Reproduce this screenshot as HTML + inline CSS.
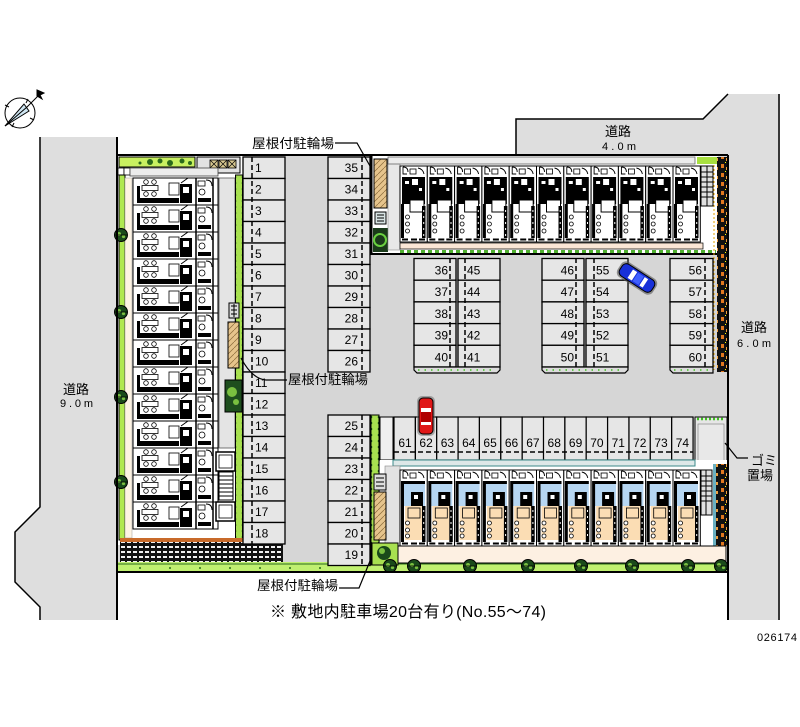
<!DOCTYPE html>
<html><head><meta charset="utf-8"><title>site plan</title>
<style>
html,body{margin:0;padding:0;background:#fff;width:800px;height:727px;overflow:hidden}
svg{display:block}
.n{font-family:"Liberation Sans",sans-serif;font-size:12px;fill:#000}
.j{font-family:"Liberation Sans","Noto Sans CJK JP",sans-serif;font-size:13px;fill:#000}
</style></head><body>
<svg width="800" height="727" viewBox="0 0 800 727" xmlns="http://www.w3.org/2000/svg" xmlns:xlink="http://www.w3.org/1999/xlink">
<defs>
<pattern id="brick" width="6" height="5" patternUnits="userSpaceOnUse">
 <rect width="6" height="5" fill="#111"/>
 <rect x="1" y="1" width="4" height="2" fill="#f2f2f2"/>
</pattern>
<pattern id="tan" width="6" height="6" patternUnits="userSpaceOnUse">
 <rect width="6" height="6" fill="#e6c48c"/>
 <path d="M0 6 L6 0" stroke="#8a6a3a" stroke-width=".7"/>
</pattern>
<pattern id="orng" width="10" height="9" patternUnits="userSpaceOnUse">
 <rect width="10" height="9" fill="#111"/>
 <rect x="1" y="2" width="3" height="4" fill="#e07820"/>
 <rect x="6" y="5" width="2" height="3" fill="#f0a040"/>
 <rect x="5" y="0" width="1" height="1" fill="#ff0"/>
</pattern>
<pattern id="gdot" width="8" height="6" patternUnits="userSpaceOnUse">
 <rect width="8" height="6" fill="#a8e050"/>
 <circle cx="3" cy="3" r="1.3" fill="#1a5a1a"/>
</pattern>
<g id="tree">
 <circle r="6.5" fill="#1a4a1a" stroke="#000" stroke-width="1"/>
 <circle cx="-2" cy="-1" r="2" fill="#7ac040"/>
 <circle cx="2.5" cy="1.5" r="1.6" fill="#7ac040"/>
 <path d="M-6 0 H6" stroke="#000" stroke-width=".8"/>
</g>
<g id="uL">
 <rect width="85" height="27" fill="#fff" stroke="#000" stroke-width="1"/>
 <rect x="9" y="7.5" width="16" height="5" fill="#fff" stroke="#000" stroke-width=".8"/>
 <circle cx="13" cy="4" r="2.3" fill="#fff" stroke="#000" stroke-width=".8"/>
 <circle cx="21" cy="4" r="2.3" fill="#fff" stroke="#000" stroke-width=".8"/>
 <circle cx="13" cy="16" r="2.3" fill="#fff" stroke="#000" stroke-width=".8"/>
 <circle cx="21" cy="16" r="2.3" fill="#fff" stroke="#000" stroke-width=".8"/>
 <rect x="4" y="8" width="3" height="17" fill="#000"/>
 <rect x="4" y="20" width="42" height="5" fill="#000"/>
 <rect x="36" y="5" width="10" height="12" fill="#fff" stroke="#000" stroke-width=".8"/>
 <rect x="47" y="6" width="12" height="19" fill="#000"/>
 <rect x="50" y="9" width="6" height="6" fill="#fff"/>
 <path d="M48 5 L55 0" stroke="#000" stroke-width="1"/>
 <line x1="63" y1="0" x2="63" y2="27" stroke="#000" stroke-width="1.5"/>
 <rect x="65" y="3" width="7" height="5" fill="#fff" stroke="#000" stroke-width=".8"/>
 <path d="M73 2 q6 0 6 6" fill="none" stroke="#000" stroke-width="1"/>
 <circle cx="69" cy="14" r="3" fill="#fff" stroke="#000" stroke-width=".8"/>
 <rect x="65" y="20" width="13" height="4" fill="#000"/>
 <line x1="80" y1="0" x2="80" y2="27" stroke="#000" stroke-width="1.5"/>
</g>
<g id="uT">
 <rect width="27.3" height="76" fill="#fff" stroke="#000" stroke-width="1"/>
 <path d="M3 1 v7 h4 M3 1 q5 0 5 5" fill="none" stroke="#000" stroke-width=".9"/>
 <rect x="10" y="3" width="6" height="5" fill="#fff" stroke="#000" stroke-width=".8"/>
 <path d="M18 2 q5 1 6 6" fill="none" stroke="#000" stroke-width=".9"/>
 <rect x="2" y="11" width="23" height="27" fill="#000"/>
 <rect x="12" y="13" width="6" height="6" fill="#fff"/>
 <rect x="5" y="15" width="4" height="3" fill="#fff"/>
 <rect x="19" y="22" width="3" height="3" fill="#fff"/>
 <rect x="10" y="34" width="14" height="12" fill="#fff" stroke="#000" stroke-width="1"/>
 <rect x="1" y="38" width="3" height="34" fill="#000"/>
 <circle cx="7.5" cy="51" r="2" fill="#fff" stroke="#000" stroke-width=".8"/>
 <circle cx="7.5" cy="58" r="2" fill="#fff" stroke="#000" stroke-width=".8"/>
 <circle cx="7.5" cy="65" r="2" fill="#fff" stroke="#000" stroke-width=".8"/>
 <rect x="22" y="40" width="3.5" height="32" fill="#000"/>
 <path d="M23.7 44 v2 M23.7 50 v2 M23.7 56 v2 M23.7 62 v2 M23.7 68 v2" stroke="#fff" stroke-width="1"/>
 <path d="M2 73.5 h6 M11 73.5 h6 M19 73.5 h6" stroke="#000" stroke-width="2"/>
</g>
<g id="uB">
 <rect width="27.3" height="76" fill="#fff" stroke="#000" stroke-width="1"/>
 <path d="M3 1 v7 h4 M3 1 q5 0 5 5" fill="none" stroke="#000" stroke-width=".9"/>
 <rect x="10" y="3" width="6" height="5" fill="#fff" stroke="#000" stroke-width=".8"/>
 <path d="M18 2 q5 1 6 6" fill="none" stroke="#000" stroke-width=".9"/>
 <rect x="3" y="11" width="22" height="25" fill="#b6d6f2"/>
 <rect x="3" y="11" width="22" height="3" fill="#000"/>
 <rect x="11" y="22" width="12" height="16" fill="#000"/>
 <rect x="14" y="25" width="4" height="4" fill="#fff"/>
 <rect x="1" y="11" width="3" height="61" fill="#000"/>
 <rect x="5" y="36" width="17" height="34" fill="#fbddb4"/>
 <rect x="8" y="38" width="12" height="10" fill="#fbddb4" stroke="#000" stroke-width=".8"/>
 <circle cx="7.5" cy="53" r="2" fill="#fff" stroke="#000" stroke-width=".8"/>
 <circle cx="7.5" cy="60" r="2" fill="#fff" stroke="#000" stroke-width=".8"/>
 <circle cx="7.5" cy="66" r="2" fill="#fff" stroke="#000" stroke-width=".8"/>
 <rect x="22" y="36" width="3.5" height="36" fill="#000"/>
 <path d="M23.7 40 v2 M23.7 46 v2 M23.7 52 v2 M23.7 58 v2 M23.7 64 v2" stroke="#fff" stroke-width="1"/>
 <path d="M2 73.5 h6 M11 73.5 h6 M19 73.5 h6" stroke="#000" stroke-width="2"/>
</g>
</defs>

<!-- compass -->
<g stroke="#000" stroke-width="1" fill="none">
 <circle cx="20" cy="113" r="15"/>
 <path d="M5 105 l4 2 M34 120 l-4 -2 M12 127 l2 -4 M28 99 l-2 4"/>
 <polygon points="5,126 24,104 29,111" fill="#cfe6f2"/>
 <path d="M5 126 L27 107 M27 107 L40 94"/>
 <polygon points="37,90 44,93 40,95 42,99 37,96" fill="#000"/>
</g>

<!-- roads -->
<polygon points="40,137 117,137 117,620 40,620 40,607 15,582 15,532 40,507" fill="#dedede"/>
<polyline points="40,137 40,507 15,532 15,582 40,607 40,620" fill="none" stroke="#000" stroke-width="1.5"/>
<polygon points="516,155 516,119 703,119 728,94 780,94 780,620 728,620 728,155" fill="#dedede"/>
<polyline points="516,155 516,119 703,119 728,94" fill="none" stroke="#000" stroke-width="1.5"/>
<line x1="779" y1="94" x2="779" y2="620" stroke="#000" stroke-width="1.5"/>

<!-- site base -->
<rect x="118" y="156" width="610" height="416" fill="#d6d6d6"/>
<rect x="118" y="156" width="125" height="389" fill="#fff"/>

<!-- left building area -->
<rect x="119" y="157" width="76" height="10" fill="#c8f060" stroke="#000" stroke-width="1"/>
<g fill="#2a6a1a"><circle cx="150" cy="162" r="3"/><circle cx="160" cy="161" r="2.5"/><circle cx="170" cy="163" r="3"/><circle cx="182" cy="161" r="2.5"/><circle cx="190" cy="163" r="2"/><circle cx="140" cy="163" r="1.5"/></g>
<rect x="197" y="157" width="43" height="16" fill="#e2e2e2" stroke="#000" stroke-width="1"/>
<g fill="#d8c890" stroke="#000" stroke-width=".8"><rect x="210" y="160" width="8" height="8"/><rect x="219" y="160" width="8" height="8"/><rect x="228" y="160" width="8" height="8"/></g>
<path d="M210 160 l8 8 M218 160 l-8 8 M219 160 l8 8 M227 160 l-8 8 M228 160 l8 8 M236 160 l-8 8" stroke="#000" stroke-width=".7"/>
<rect x="118" y="168" width="6" height="7" fill="#fff" stroke="#000" stroke-width=".8"/>
<rect x="124" y="168" width="6" height="7" fill="#fff" stroke="#000" stroke-width=".8"/>
<rect x="130" y="168" width="88" height="8" fill="#ececec" stroke="#444" stroke-width=".8"/>
<rect x="119" y="175" width="6" height="365" fill="#b0e850" stroke="#000" stroke-width="1"/>
<rect x="125" y="178" width="7" height="360" fill="#fdf3e3" stroke="#999" stroke-width=".5"/>
<rect x="219" y="178" width="16" height="270" fill="#e4e4e4" stroke="#555" stroke-width=".8"/>
<rect x="235.5" y="175" width="7" height="370" fill="url(#gdot)" stroke="#000" stroke-width="1"/>
<g>
<use href="#uL" x="133" y="178"/><use href="#uL" x="133" y="205"/><use href="#uL" x="133" y="232"/><use href="#uL" x="133" y="259"/><use href="#uL" x="133" y="286"/><use href="#uL" x="133" y="313"/><use href="#uL" x="133" y="340"/><use href="#uL" x="133" y="367"/><use href="#uL" x="133" y="394"/><use href="#uL" x="133" y="421"/><use href="#uL" x="133" y="448"/><use href="#uL" x="133" y="475"/><use href="#uL" x="133" y="502"/>
</g>
<use href="#tree" x="121" y="235"/><use href="#tree" x="121" y="312"/><use href="#tree" x="121" y="397"/><use href="#tree" x="121" y="482"/>
<rect x="229" y="303" width="10" height="15" fill="#ddd" stroke="#000" stroke-width="1"/>
<path d="M231 306 h6 M231 310 h6 M231 314 h6 M234 304 v13" stroke="#000" stroke-width="1"/>
<rect x="228" y="322" width="11" height="46" fill="url(#tan)" stroke="#000" stroke-width="1"/>
<rect x="225" y="380" width="17" height="32" fill="#1e4e1e" stroke="#000" stroke-width="1"/>
<circle cx="232" cy="392" r="5" fill="#7ac040"/><circle cx="236" cy="402" r="3" fill="#7ac040"/>
<rect x="216" y="452" width="19" height="19" fill="#fff" stroke="#000" stroke-width="1.5"/>
<rect x="219" y="455" width="13" height="13" fill="#fff" stroke="#000" stroke-width=".8"/>
<rect x="219" y="472" width="14" height="28" fill="#fff" stroke="#000" stroke-width="1"/>
<path d="M219 476 h14 M219 480 h14 M219 484 h14 M219 488 h14 M219 492 h14 M219 496 h14" stroke="#000" stroke-width="1"/>
<rect x="216" y="502" width="19" height="19" fill="#fff" stroke="#000" stroke-width="1.5"/>
<rect x="219" y="505" width="13" height="13" fill="#fff" stroke="#000" stroke-width=".8"/>
<rect x="120" y="538" width="163" height="24" fill="url(#brick)"/>
<rect x="120" y="538" width="123" height="4" fill="#c86a2a"/>
<rect x="118" y="562" width="610" height="9" fill="#c0f070"/>
<line x1="118" y1="564" x2="728" y2="564" stroke="#2a6a1a" stroke-width="1"/>
<g fill="#2a6a1a"><circle cx="140" cy="568" r="1"/><circle cx="170" cy="568" r="1"/><circle cx="200" cy="568" r="1"/><circle cx="230" cy="568" r="1"/><circle cx="260" cy="568" r="1"/><circle cx="290" cy="568" r="1"/><circle cx="320" cy="568" r="1"/></g>

<!-- parking column 1-18 -->
<g fill="#e6e6e6" stroke="#000" stroke-width="1.3">
<rect x="243" y="157" width="42" height="21.5"/><rect x="243" y="178.5" width="42" height="21.5"/><rect x="243" y="200" width="42" height="21.5"/><rect x="243" y="221.5" width="42" height="21.5"/><rect x="243" y="243" width="42" height="21.5"/><rect x="243" y="264.5" width="42" height="21.5"/><rect x="243" y="286" width="42" height="21.5"/><rect x="243" y="307.5" width="42" height="21.5"/><rect x="243" y="329" width="42" height="21.5"/><rect x="243" y="350.5" width="42" height="21.5"/><rect x="243" y="372" width="42" height="21.5"/><rect x="243" y="393.5" width="42" height="21.5"/><rect x="243" y="415" width="42" height="21.5"/><rect x="243" y="436.5" width="42" height="21.5"/><rect x="243" y="458" width="42" height="21.5"/><rect x="243" y="479.5" width="42" height="21.5"/><rect x="243" y="501" width="42" height="21.5"/><rect x="243" y="522.5" width="42" height="21.5"/>
</g>
<line x1="252" y1="157" x2="252" y2="544" stroke="#000" stroke-width="1.5" stroke-dasharray="5,3"/>
<g class="n">
<text x="255" y="172">1</text><text x="255" y="193.5">2</text><text x="255" y="215">3</text><text x="255" y="236.5">4</text><text x="255" y="258">5</text><text x="255" y="279.5">6</text><text x="255" y="301">7</text><text x="255" y="322.5">8</text><text x="255" y="344">9</text><text x="255" y="365.5">10</text><text x="255" y="387">11</text><text x="255" y="408.5">12</text><text x="255" y="430">13</text><text x="255" y="451.5">14</text><text x="255" y="473">15</text><text x="255" y="494.5">16</text><text x="255" y="516">17</text><text x="255" y="537.5">18</text>
</g>

<!-- parking column 35-19 -->
<g fill="#e6e6e6" stroke="#000" stroke-width="1.3">
<rect x="328" y="157" width="42" height="21.5"/><rect x="328" y="178.5" width="42" height="21.5"/><rect x="328" y="200" width="42" height="21.5"/><rect x="328" y="221.5" width="42" height="21.5"/><rect x="328" y="243" width="42" height="21.5"/><rect x="328" y="264.5" width="42" height="21.5"/><rect x="328" y="286" width="42" height="21.5"/><rect x="328" y="307.5" width="42" height="21.5"/><rect x="328" y="329" width="42" height="21.5"/><rect x="328" y="350.5" width="42" height="21.5"/>
<rect x="328" y="415" width="42" height="21.5"/><rect x="328" y="436.5" width="42" height="21.5"/><rect x="328" y="458" width="42" height="21.5"/><rect x="328" y="479.5" width="42" height="21.5"/><rect x="328" y="501" width="42" height="21.5"/><rect x="328" y="522.5" width="42" height="21.5"/><rect x="328" y="544" width="42" height="21.5"/>
</g>
<line x1="362" y1="157" x2="362" y2="372" stroke="#000" stroke-width="1.5" stroke-dasharray="5,3"/>
<line x1="362" y1="415" x2="362" y2="565" stroke="#000" stroke-width="1.5" stroke-dasharray="5,3"/>
<g class="n" text-anchor="end">
<text x="358" y="172">35</text><text x="358" y="193.5">34</text><text x="358" y="215">33</text><text x="358" y="236.5">32</text><text x="358" y="258">31</text><text x="358" y="279.5">30</text><text x="358" y="301">29</text><text x="358" y="322.5">28</text><text x="358" y="344">27</text><text x="358" y="365.5">26</text>
<text x="358" y="430">25</text><text x="358" y="451.5">24</text><text x="358" y="473">23</text><text x="358" y="494.5">22</text><text x="358" y="516">21</text><text x="358" y="537.5">20</text><text x="358" y="559">19</text>
</g>

<!-- top right building -->
<rect x="371" y="156" width="347" height="98" fill="#fff"/>
<rect x="374" y="159" width="13" height="49" fill="url(#tan)" stroke="#000" stroke-width="1"/>
<rect x="375" y="212" width="11" height="12" fill="#d8e4e4" stroke="#000" stroke-width="1"/>
<path d="M377 215 h7 M377 218 h7 M377 221 h7" stroke="#000" stroke-width="1"/>
<rect x="373" y="228" width="15" height="24" fill="#1a3a1a"/>
<circle cx="380" cy="240" r="6" fill="none" stroke="#6ad040" stroke-width="2"/>
<rect x="388" y="160" width="12" height="90" fill="#e8e8e8" stroke="#888" stroke-width=".6"/>
<rect x="388" y="157" width="307" height="7" fill="#ececec" stroke="#666" stroke-width=".8"/>
<rect x="697" y="157" width="28" height="7" fill="#a8e040"/>
<g>
<use href="#uT" x="400" y="166"/><use href="#uT" x="427.3" y="166"/><use href="#uT" x="454.6" y="166"/><use href="#uT" x="481.9" y="166"/><use href="#uT" x="509.2" y="166"/><use href="#uT" x="536.5" y="166"/><use href="#uT" x="563.8" y="166"/><use href="#uT" x="591.1" y="166"/><use href="#uT" x="618.4" y="166"/><use href="#uT" x="645.7" y="166"/><use href="#uT" x="673" y="166"/>
</g>
<rect x="701" y="166" width="12" height="40" fill="#e0e0e0" stroke="#000" stroke-width="1"/>
<path d="M701 172 h12 M701 177 h12 M701 182 h12 M701 187 h12 M701 192 h12 M701 197 h12 M707 166 v40" stroke="#000" stroke-width="1"/>
<rect x="400" y="243" width="303" height="6" fill="#fbe6d6" stroke="#000" stroke-width=".7"/>
<line x1="400" y1="251.5" x2="716" y2="251.5" stroke="#50b030" stroke-width="3" stroke-dasharray="4,3"/>
<line x1="371" y1="155" x2="371" y2="254" stroke="#000" stroke-width="3"/>
<line x1="370" y1="254" x2="718" y2="254" stroke="#000" stroke-width="2"/>
<rect x="717" y="157" width="11" height="215" fill="url(#orng)"/>
<line x1="714" y1="165" x2="714" y2="370" stroke="#e0a000" stroke-width="1" stroke-dasharray="2,2"/>

<!-- islands -->
<g fill="#e6e6e6" stroke="#000" stroke-width="1.3">
<rect x="414" y="258.5" width="42" height="21.7"/><rect x="414" y="280.2" width="42" height="21.7"/><rect x="414" y="301.9" width="42" height="21.7"/><rect x="414" y="323.6" width="42" height="21.7"/><rect x="414" y="345.3" width="42" height="21.7"/>
<rect x="458" y="258.5" width="42" height="21.7"/><rect x="458" y="280.2" width="42" height="21.7"/><rect x="458" y="301.9" width="42" height="21.7"/><rect x="458" y="323.6" width="42" height="21.7"/><rect x="458" y="345.3" width="42" height="21.7"/>
<rect x="542" y="258.5" width="42" height="21.7"/><rect x="542" y="280.2" width="42" height="21.7"/><rect x="542" y="301.9" width="42" height="21.7"/><rect x="542" y="323.6" width="42" height="21.7"/><rect x="542" y="345.3" width="42" height="21.7"/>
<rect x="586" y="258.5" width="42" height="21.7"/><rect x="586" y="280.2" width="42" height="21.7"/><rect x="586" y="301.9" width="42" height="21.7"/><rect x="586" y="323.6" width="42" height="21.7"/><rect x="586" y="345.3" width="42" height="21.7"/>
<rect x="670" y="258.5" width="43" height="21.7"/><rect x="670" y="280.2" width="43" height="21.7"/><rect x="670" y="301.9" width="43" height="21.7"/><rect x="670" y="323.6" width="43" height="21.7"/><rect x="670" y="345.3" width="43" height="21.7"/>
</g>
<g stroke="#000" stroke-width="1.5" stroke-dasharray="5,3">
<line x1="450" y1="258" x2="450" y2="367"/><line x1="465" y1="258" x2="465" y2="367"/>
<line x1="576" y1="258" x2="576" y2="367"/><line x1="594" y1="258" x2="594" y2="367"/>
<line x1="705" y1="258" x2="705" y2="367"/>
</g>
<g fill="#dcdcdc" stroke="#000" stroke-width="1.2">
<path d="M414 367 v3 l3 3 h80 l3 -3 v-3z"/>
<path d="M542 367 v3 l3 3 h80 l3 -3 v-3z"/>
<path d="M670 367 v3 l3 3 h40 v-6z"/>
</g>
<g stroke="#40c020" stroke-width="1.5" stroke-dasharray="1.5,5"><line x1="418" y1="370" x2="496" y2="370"/><line x1="546" y1="370" x2="624" y2="370"/><line x1="674" y1="370" x2="712" y2="370"/></g>
<g class="n" text-anchor="end">
<text x="448" y="274.5">36</text><text x="448" y="296.2">37</text><text x="448" y="317.9">38</text><text x="448" y="339.6">39</text><text x="448" y="361.3">40</text>
<text x="574" y="274.5">46</text><text x="574" y="296.2">47</text><text x="574" y="317.9">48</text><text x="574" y="339.6">49</text><text x="574" y="361.3">50</text>
<text x="702" y="274.5">56</text><text x="702" y="296.2">57</text><text x="702" y="317.9">58</text><text x="702" y="339.6">59</text><text x="702" y="361.3">60</text>
</g>
<g class="n">
<text x="467" y="274.5">45</text><text x="467" y="296.2">44</text><text x="467" y="317.9">43</text><text x="467" y="339.6">42</text><text x="467" y="361.3">41</text>
<text x="596" y="274.5">55</text><text x="596" y="296.2">54</text><text x="596" y="317.9">53</text><text x="596" y="339.6">52</text><text x="596" y="361.3">51</text>
</g>

<!-- blue car -->
<g transform="translate(637,278) rotate(33)">
 <rect x="-21" y="-9" width="42" height="18" rx="6" fill="#555" opacity=".6"/>
 <rect x="-19" y="-7" width="38" height="14" rx="5" fill="#1830d8" stroke="#000" stroke-width="1"/>
 <rect x="-8" y="-5" width="5" height="10" fill="#fff"/>
 <rect x="6" y="-5" width="4" height="10" fill="#fff"/>
 <rect x="-2" y="-5" width="7" height="10" fill="#4060ff"/>
</g>

<!-- bottom row 61-74 -->
<rect x="371" y="415" width="8" height="150" fill="url(#gdot)" stroke="#000" stroke-width="1"/>
<rect x="380" y="417" width="13" height="43" fill="#efefef" stroke="#000" stroke-width="1"/>
<g fill="#e6e6e6" stroke="#000" stroke-width="1.2">
<rect x="394" y="417" width="21.36" height="43"/><rect x="415.4" y="417" width="21.36" height="43"/><rect x="436.7" y="417" width="21.36" height="43"/><rect x="458.1" y="417" width="21.36" height="43"/><rect x="479.4" y="417" width="21.36" height="43"/><rect x="500.8" y="417" width="21.36" height="43"/><rect x="522.2" y="417" width="21.36" height="43"/><rect x="543.5" y="417" width="21.36" height="43"/><rect x="564.9" y="417" width="21.36" height="43"/><rect x="586.2" y="417" width="21.36" height="43"/><rect x="607.6" y="417" width="21.36" height="43"/><rect x="629" y="417" width="21.36" height="43"/><rect x="650.3" y="417" width="21.36" height="43"/><rect x="671.7" y="417" width="21.36" height="43"/>
</g>
<line x1="394" y1="452" x2="693" y2="452" stroke="#000" stroke-width="1.5" stroke-dasharray="5,3"/>
<g class="n" text-anchor="middle">
<text x="405" y="447">61</text><text x="426.1" y="447">62</text><text x="447.4" y="447">63</text><text x="468.8" y="447">64</text><text x="490.1" y="447">65</text><text x="511.5" y="447">66</text><text x="532.9" y="447">67</text><text x="554.2" y="447">68</text><text x="575.6" y="447">69</text><text x="596.9" y="447">70</text><text x="618.3" y="447">71</text><text x="639.7" y="447">72</text><text x="661" y="447">73</text><text x="682.4" y="447">74</text>
</g>

<!-- red car -->
<g transform="translate(426,416)">
 <rect x="-9" y="-20" width="18" height="40" rx="5" fill="#666" opacity=".5"/>
 <rect x="-7" y="-18" width="14" height="36" rx="4" fill="#e01818" stroke="#000" stroke-width="1"/>
 <rect x="-5" y="-8" width="10" height="4" fill="#fff"/>
 <rect x="-5" y="6" width="10" height="3" fill="#fff"/>
 <rect x="-5" y="-4" width="10" height="10" fill="#b00000"/>
</g>

<!-- gomi -->
<rect x="695" y="417" width="32" height="46" fill="#e6e6e6" stroke="#000" stroke-width="1"/>
<line x1="697" y1="419" x2="725" y2="419" stroke="#40c020" stroke-width="2.5" stroke-dasharray="2,2"/>
<rect x="698" y="424" width="26" height="38" fill="#e8e8e8" stroke="#888" stroke-width=".7"/>

<!-- lower building -->
<rect x="380" y="460" width="348" height="103" fill="#fff"/>
<rect x="393" y="460" width="302" height="6" fill="#dde8e8" stroke="#3a8a8a" stroke-width="1"/>
<rect x="385" y="466" width="15" height="80" fill="#e2e2e2" stroke="#888" stroke-width=".6"/>
<rect x="374" y="474" width="12" height="16" fill="#ddd" stroke="#000" stroke-width="1"/>
<path d="M376 478 h8 M376 482 h8 M376 486 h8" stroke="#000"/>
<rect x="374" y="492" width="12" height="48" fill="url(#tan)" stroke="#000" stroke-width="1"/>
<g>
<use href="#uB" x="400" y="470"/><use href="#uB" x="427.3" y="470"/><use href="#uB" x="454.6" y="470"/><use href="#uB" x="481.9" y="470"/><use href="#uB" x="509.2" y="470"/><use href="#uB" x="536.5" y="470"/><use href="#uB" x="563.8" y="470"/><use href="#uB" x="591.1" y="470"/><use href="#uB" x="618.4" y="470"/><use href="#uB" x="645.7" y="470"/><use href="#uB" x="673" y="470"/>
</g>
<rect x="701" y="470" width="11" height="45" fill="#e0e0e0" stroke="#000" stroke-width="1"/>
<path d="M701 476 h11 M701 481 h11 M701 486 h11 M701 491 h11 M701 496 h11 M701 501 h11 M706 470 v45" stroke="#000" stroke-width="1"/>
<rect x="713" y="464" width="3" height="82" fill="#6ab0c0"/>
<rect x="716" y="464" width="11" height="82" fill="url(#orng)"/>
<rect x="398" y="546" width="328" height="17" fill="#fdf0e2" stroke="#000" stroke-width="1"/>
<rect x="372" y="543" width="26" height="22" fill="#a8e050" stroke="#000" stroke-width="1"/>
<circle cx="384" cy="553" r="7" fill="#1a4a1a"/><circle cx="382" cy="551" r="3" fill="#7ac040"/>
<use href="#tree" x="390" y="566"/><use href="#tree" x="414" y="566"/><use href="#tree" x="470" y="566"/><use href="#tree" x="528" y="566"/><use href="#tree" x="581" y="566"/><use href="#tree" x="632" y="566"/><use href="#tree" x="688" y="566"/><use href="#tree" x="721" y="566"/>

<!-- site boundary -->
<line x1="117" y1="155" x2="728" y2="155" stroke="#000" stroke-width="2"/>
<line x1="117" y1="137" x2="117" y2="620" stroke="#000" stroke-width="2"/>
<line x1="728" y1="155" x2="728" y2="620" stroke="#000" stroke-width="2"/>
<line x1="117" y1="572" x2="728" y2="572" stroke="#000" stroke-width="2"/>

<!-- leaders -->
<g fill="none" stroke="#000" stroke-width="1.2">
<path d="M335 143 H357 L370 166"/>
<path d="M241 358 Q252 379 266 380 H287"/>
<path d="M339 588 H359 L370 561"/>
<path d="M725 443 L737 458 H748"/>
</g>

<!-- labels -->
<text class="j" x="252" y="148" textLength="82" lengthAdjust="spacingAndGlyphs">屋根付駐輪場</text>
<text class="j" x="288" y="384" textLength="80" lengthAdjust="spacingAndGlyphs">屋根付駐輪場</text>
<text class="j" x="257" y="590" textLength="81" lengthAdjust="spacingAndGlyphs">屋根付駐輪場</text>
<text class="j" x="605" y="136">道路</text>
<text class="n" x="602" y="150" style="font-size:11px" textLength="34" lengthAdjust="spacing">4.0m</text>
<text class="j" x="741" y="332">道路</text>
<text class="n" x="737" y="347" style="font-size:11px" textLength="34" lengthAdjust="spacing">6.0m</text>
<text class="j" x="63" y="394">道路</text>
<text class="n" x="60" y="407" style="font-size:11px" textLength="33" lengthAdjust="spacing">9.0m</text>
<text class="j" x="751" y="465">ゴミ</text>
<text class="j" x="747" y="480">置場</text>
<text class="j" x="270" y="617" style="font-size:16px" textLength="276" lengthAdjust="spacing">※ 敷地内駐車場20台有り(No.55～74)</text>
<text class="n" x="757" y="641" style="font-size:11px" textLength="40" lengthAdjust="spacing">026174</text>
</svg>
</body></html>
